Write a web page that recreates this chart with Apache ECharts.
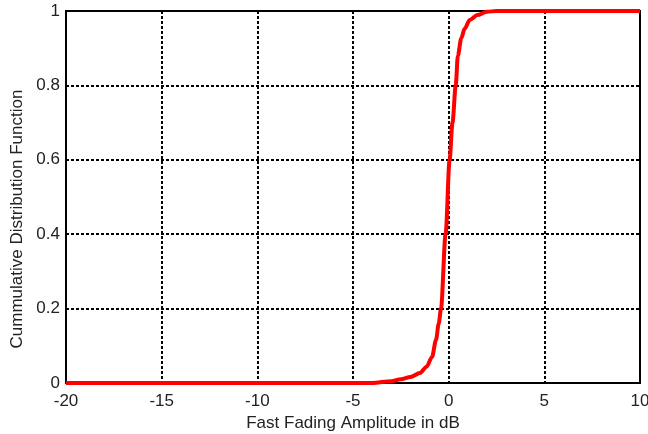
<!DOCTYPE html>
<html>
<head>
<meta charset="utf-8">
<script src="https://cdn.jsdelivr.net/npm/echarts@6/dist/echarts.min.js"></script>
<style>
html, body { margin: 0; padding: 0; background: #fff; }
#chart { width: 648px; height: 434px; }
</style>
</head>
<body>
<div id="chart"></div>
<script>
// amplitude (dB) and CDF values
var amplitude = [-20, -4, -3, -2.5, -2, -1.5, -1.15, -0.87, -0.66, -0.52, -0.4, -0.16, 0.05, 0.2, 0.37, 0.48, 0.66, 0.84, 1.1, 1.5, 2.0, 2.5, 10];
var cdf = [0, 0, 0.005, 0.01, 0.016, 0.027, 0.044, 0.07, 0.116, 0.16, 0.2, 0.4, 0.6, 0.7, 0.8, 0.88, 0.927, 0.953, 0.976, 0.989, 0.998, 1, 1];

var points = [];
for (var i = 0; i < amplitude.length; i++) {
    points.push([amplitude[i], cdf[i]]);
}

var myChart = echarts.init(document.getElementById('chart'));
var font = 'Liberation Sans, Arial, sans-serif';
var option = {
    animation: false,
    grid: {
        left: 66,
        right: 8,
        top: 11,
        bottom: 51,
        outerBoundsMode: 'none',
        containLabel: false,
        show: true,
        borderColor: '#000',
        borderWidth: 2
    },
    xAxis: {
        type: 'value',
        min: -20,
        max: 10,
        interval: 5,
        name: 'Fast Fading Amplitude in dB',
        nameLocation: 'middle',
        nameGap: 27,
        nameTextStyle: { color: '#222', fontSize: 17, fontFamily: font },
        axisLine: { show: true, onZero: false, lineStyle: { color: '#000', width: 2 } },
        axisTick: { show: false },
        axisLabel: { color: '#222', fontSize: 17, fontFamily: font, margin: 10 },
        splitLine: { show: true, lineStyle: { color: '#000', width: 2, type: [3, 2] } }
    },
    yAxis: {
        type: 'value',
        min: 0,
        max: 1,
        interval: 0.2,
        name: 'Cummulative Distribution Function',
        nameLocation: 'middle',
        nameGap: 38,
        nameTextStyle: { color: '#222', fontSize: 17, fontFamily: font, padding: [0, 44, 0, 0] },
        axisLine: { show: true, onZero: false, lineStyle: { color: '#000', width: 2 } },
        axisTick: { show: false },
        axisLabel: { color: '#222', fontSize: 17, fontFamily: font, margin: 6 },
        splitLine: { show: true, lineStyle: { color: '#000', width: 2, type: [3, 2] } }
    },
    series: [{
        type: 'line',
        data: points,
        smooth: 0.3,
        smoothMonotone: 'x',
        showSymbol: false,
        lineStyle: { color: '#ff0000', width: 4 },
        z: 5
    }]
};
myChart.setOption(option);
</script>
</body>
</html>
